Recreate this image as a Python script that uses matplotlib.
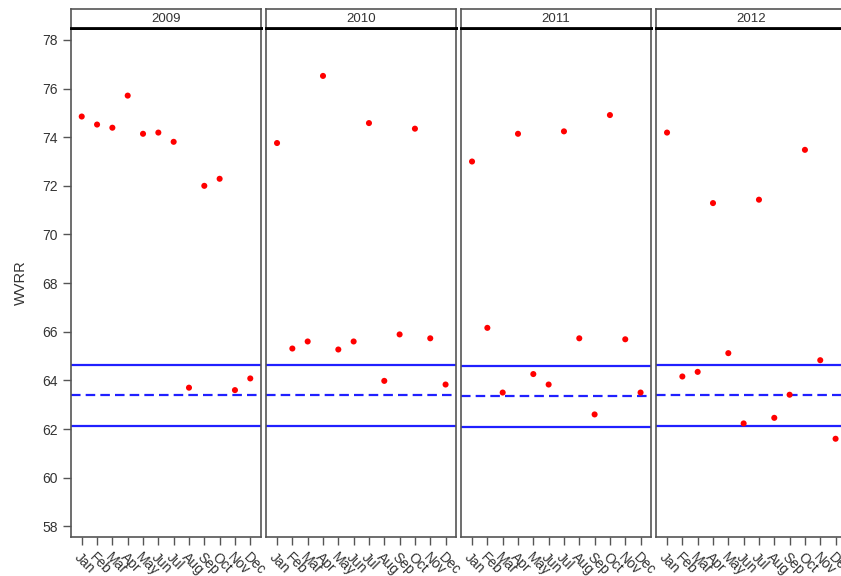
import matplotlib
matplotlib.use("Agg")
import matplotlib.pyplot as plt

plt.rcParams["font.family"] = ["Liberation Sans", "DejaVu Sans"]

months = ["Jan", "Feb", "Mar", "Apr", "May", "Jun",
          "Jul", "Aug", "Sep", "Oct", "Nov", "Dec"]
years = ["2009", "2010", "2011", "2012"]

wvrr_2009 = [74.85, 74.52, 74.39, 75.71, 74.14, 74.19,
             73.81, 63.70, 72.00, 72.29, 63.60, 64.08]
wvrr_2010 = [73.76, 65.31, 65.60, 76.52, 65.27, 65.60,
             74.58, 63.98, 65.89, 74.35, 65.73, 63.83]
wvrr_2011 = [73.00, 66.16, 63.50, 74.14, 64.26, 63.83,
             74.24, 65.73, 62.60, 74.91, 65.69, 63.50]
wvrr_2012 = [74.19, 64.16, 64.35, 71.29, 65.12, 62.23,
             71.43, 62.46, 63.41, 73.48, 64.83, 61.60]
values = [wvrr_2009, wvrr_2010, wvrr_2011, wvrr_2012]

# control limits per year: upper, centre, lower
ucl = [64.62, 64.62, 64.58, 64.64]
center = [63.41, 63.41, 63.35, 63.41]
lcl = [62.13, 62.13, 62.08, 62.13]

W, H = 841, 576
fig = plt.figure(figsize=(W / 100, H / 100), dpi=100)

lefts = [70.7, 266, 461, 656]
pw = 190.3
top, bottom, strip_top = 28, 537, 9
x = list(range(1, 13))
txt = "#333333"
edge = "#555555"

for i, yr in enumerate(years):
    ax = fig.add_axes([lefts[i] / W, 1 - bottom / H, pw / W, (bottom - top) / H])
    ax.axhline(ucl[i], color="#2020ff", lw=1.6, zorder=2)
    ax.axhline(lcl[i], color="#2020ff", lw=1.6, zorder=2)
    ax.axhline(center[i], color="#2020ff", lw=1.6, ls=(0, (4.3, 2.3)), zorder=2)
    ax.scatter(x, values[i], s=19, color="#ff0000", edgecolors="none", zorder=3)
    ax.set_xlim(0.28, 12.7)
    ax.set_ylim(57.56, 78.49)
    ax.set_xticks(x)
    ax.set_xticklabels(months, rotation=-45, ha="left", va="top",
                       rotation_mode="anchor", fontsize=10, color=txt)
    ax.set_yticks(range(58, 79, 2))
    ax.tick_params(axis="both", direction="out", length=6, width=1, color=edge)
    if i == 0:
        ax.tick_params(axis="y", labelsize=10, labelcolor=txt)
        ax.set_ylabel("WVRR", fontsize=10.5, color=txt, labelpad=10)
    else:
        ax.tick_params(axis="y", left=False, labelleft=False)
    for s in ax.spines.values():
        s.set_color(edge)
        s.set_linewidth(1.2)
    ax.spines["top"].set_color("black")
    ax.spines["top"].set_linewidth(2)

    # year strip above each panel
    sax = fig.add_axes([lefts[i] / W, 1 - top / H, pw / W, (top - strip_top) / H])
    sax.set_xticks([])
    sax.set_yticks([])
    for s in sax.spines.values():
        s.set_color(edge)
        s.set_linewidth(1.2)
    sax.spines["bottom"].set_color("black")
    sax.spines["bottom"].set_linewidth(2)
    sax.text(0.5, 0.45, yr, ha="center", va="center", fontsize=9.5,
             color=txt, transform=sax.transAxes)

fig.savefig("out.png", dpi=100)
